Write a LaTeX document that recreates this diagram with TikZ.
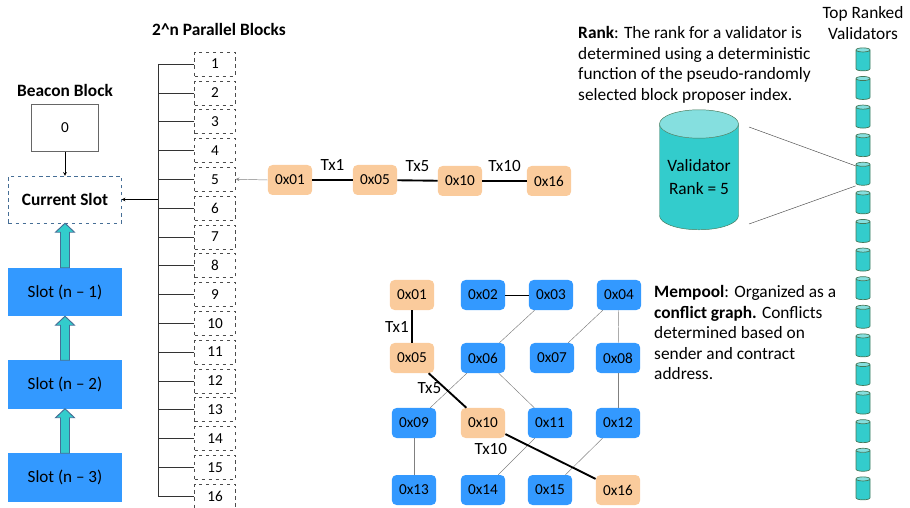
\documentclass[tikz,border=0pt]{standalone}
\usepackage{fontspec}
\setmainfont{Carlito}
\usetikzlibrary{shapes.geometric, arrows, calc}

\definecolor{slotblue}{RGB}{51,153,255}
\definecolor{txorange}{RGB}{250,203,156}
\definecolor{valteal}{RGB}{51,204,204}
\definecolor{valtop}{RGB}{133,223,223}
\definecolor{valedge}{RGB}{70,120,90}
\definecolor{arredge}{RGB}{70,110,150}

\begin{document}
\begin{tikzpicture}[x=0.03cm, y=-0.03cm,
    title/.style={font=\bfseries\fontsize{14.8}{17}\selectfont, inner sep=0pt},
    note/.style={font=\fontsize{14.8}{17.6}\selectfont, align=left, inner sep=0pt},
    beacon/.style={rectangle, draw=black!60, minimum width=2.01cm, minimum height=1.41cm, inner sep=0pt, font=\fontsize{13}{15}\selectfont},
    curslot/.style={rectangle, draw=arredge, dashed, minimum width=3.39cm, minimum height=1.41cm, inner sep=0pt, font=\bfseries\fontsize{14.8}{17}\selectfont},
    slot/.style={rectangle, fill=slotblue, minimum width=3.39cm, minimum height=1.44cm, inner sep=0pt, font=\fontsize{14.6}{17}\selectfont},
    pblock/.style={rectangle, draw=black!70, dashed, minimum width=1.23cm, minimum height=0.72cm, inner sep=0pt, font=\fontsize{13}{15}\selectfont},
    txbox/.style={rectangle, fill=txorange, rounded corners=4pt, minimum width=1.33cm, minimum height=0.9cm, inner sep=0pt, font=\fontsize{13}{15}\selectfont},
    mbox/.style={txbox, fill=slotblue},
    valbig/.style={cylinder, shape border rotate=90, aspect=0.45, draw=valedge, cylinder uses custom fill, cylinder body fill=valteal, cylinder end fill=valtop, minimum width=2.37cm, minimum height=3.6cm, inner sep=0pt, align=center, font=\fontsize{14.8}{19}\selectfont},
    valsmall/.style={cylinder, shape border rotate=90, aspect=0.5, draw=valedge, semithick, cylinder uses custom fill, cylinder body fill=valteal, cylinder end fill=valtop, minimum width=0.42cm, minimum height=0.69cm, inner sep=3.5pt},
    uparrow/.style={fill=valteal, draw=arredge, thick},
    thinarrow/.style={->, >=stealth, draw=black},
    grayarrow/.style={->, >=stealth, draw=black!50},
    busline/.style={draw=black!80},
    txline/.style={draw=black, line width=1.6pt},
    txlabel/.style={font=\fontsize{14.6}{17}\selectfont, inner sep=2pt},
    confline/.style={draw=black!50},
    rankline/.style={draw=black!70}
]
\useasboundingbox (0,0) rectangle (910,508);

% Left column: beacon block and slots
\node[title] (beaconlbl) at (65,90) {Beacon Block};
\node[beacon] (bb) at (65,128) {0};
\node[curslot] (cur) at (65,199.5) {Current Slot};
\node[slot] (s1) at (65,292) {Slot (n -- 1)};
\node[slot] (s2) at (65,384.5) {Slot (n -- 2)};
\node[slot] (s3) at (65,477.5) {Slot (n -- 3)};

\draw[thinarrow] (bb) -- (cur);
\foreach \lo/\hi in {s1/cur, s2/s1, s3/s2}
  \filldraw[uparrow] ($(\lo.north)+(-4.5,0)$) -- ($(\hi.south)+(-4.5,9)$) -- ($(\hi.south)+(-9.5,9)$) -- (\hi.south)
    -- ($(\hi.south)+(9.5,9)$) -- ($(\hi.south)+(4.5,9)$) -- ($(\lo.north)+(4.5,0)$) -- cycle;

% Parallel blocks
\node[title] (pbtitle) at (219,29) {2\textasciicircum n Parallel Blocks};
\foreach \i in {1,...,16}
  \node[pblock] (b\i) at (215,{64+(\i-1)*28.8}) {\i};
\coordinate (bus) at (158,64);
\draw[busline] (b1.west -| bus) -- (b16.west -| bus);
\foreach \i in {1,...,16}
  \draw[busline] (b\i.west) -- (b\i.west -| bus);
\draw[thinarrow] (cur.east -| bus) -- (cur.east);

% Transaction chain for block 5
\node[txbox] (c01) at (290,180) {0x01};
\node[txbox] (c05) at (375,180) {0x05};
\node[txbox] (c10) at (460,181) {0x10};
\node[txbox] (c16) at (549,181) {0x16};
\draw[grayarrow] (c01.west) -- (b5.east);
\draw[txline] (c01) -- node[txlabel, above=5pt] {Tx1} (c05);
\draw[txline] (c05) -- node[txlabel, above=5pt] {Tx5} (c10);
\draw[txline] (c10) -- node[txlabel, above=5pt] {Tx10} (c16);

% Mempool conflict graph
\foreach \n/\x/\y/\s in {01/412/295/txbox, 02/483/295/mbox, 03/551/295/mbox, 04/619/295/mbox,
    05/412/358/txbox, 06/483/358/mbox, 07/552/358/mbox, 08/618/358/mbox,
    09/414/423/mbox, 10/483/423/txbox, 11/550/423/mbox, 12/618/423/mbox,
    13/414/490/mbox, 14/483/490/mbox, 15/550/490/mbox, 16/618/490/txbox}
  \node[\s] (m\n) at (\x,\y) {0x\n};

\draw[draw=black] (m02) -- (m03);
\foreach \a/\b in {03/06, 04/07, 04/08, 06/09, 06/11, 08/12, 09/13, 11/14, 12/15}
  \draw[confline] (m\a) -- (m\b);
\draw[txline] (m01) -- node[txlabel, left] {Tx1} (m05);
\draw[txline] (m05) -- node[txlabel, left, pos=0.42] {Tx5} (m10);
\draw[txline] (m10) -- node[txlabel, below left, pos=0.08, inner sep=4pt] {Tx10} (m16);

\node[note, anchor=north west] (mempool) at (654,285) {\textbf{Mempool}: Organized as a\\ \textbf{conflict graph.} Conflicts\\ determined based on\\ sender and contract\\ address.};

% Validator ranking
\node[note, anchor=north west] (rank) at (578,26) {\textbf{Rank}: The rank for a validator is\\ determined using a deterministic\\ function of the pseudo-randomly\\ selected block proposer index.};
\node[note, align=center] (toplbl) at (863,23) {Top Ranked\\Validators};

\foreach \i in {1,...,16}
  \node[valsmall] (v\i) at (863,{61.5+(\i-1)*28.6}) {};
\node[valbig] (val) at (699,177) {Validator\\Rank = 5};
\coordinate (rtop) at (749,127);
\coordinate (rbot) at (749,224);
\draw[rankline] (rtop) -- ($(v5.west)+(0,-10)$);
\draw[rankline] (rbot) -- ($(v5.west)+(0,10)$);

\end{tikzpicture}
\end{document}
